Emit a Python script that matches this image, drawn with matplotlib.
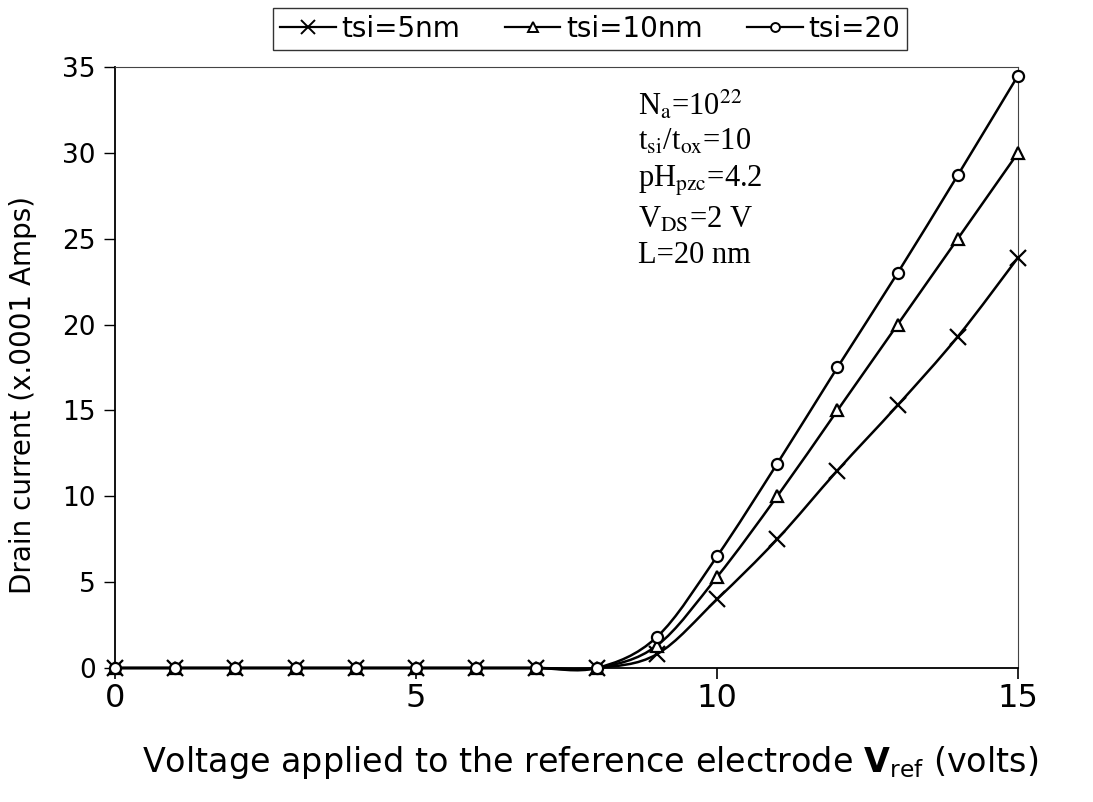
import numpy as np
import matplotlib
matplotlib.use("Agg")
import matplotlib.pyplot as plt
from matplotlib.path import Path
from matplotlib.patches import PathPatch
from matplotlib.lines import Line2D

plt.rcParams["font.family"] = ["DejaVu Sans"]
plt.rcParams["mathtext.fontset"] = "dejavusans"

# Reference electrode voltage (V)
v_ref = [0, 1, 2, 3, 4, 5, 6, 7, 8, 9, 10, 11, 12, 13, 14, 15]
# Drain current (x0.0001 A)
id_5nm = [0, 0, 0, 0, 0, 0, 0, 0, 0, 0.8, 4.0, 7.5, 11.5, 15.3, 19.3, 23.9]
id_10nm = [0, 0, 0, 0, 0, 0, 0, 0, 0, 1.3, 5.3, 10.0, 15.0, 20.0, 25.0, 30.0]
id_20nm = [0, 0, 0, 0, 0, 0, 0, 0, 0, 1.8, 6.5, 11.9, 17.5, 23.0, 28.7, 34.5]

series = [
    ("tsi=5nm", id_5nm, "x", 12),
    ("tsi=10nm", id_10nm, "^", 9),
    ("tsi=20", id_20nm, "o", 8),
]

x_ticks = [0, 5, 10, 15]
y_ticks = [0, 5, 10, 15, 20, 25, 30, 35]


def smooth_path(ax, xs, ys):
    """Cubic Bezier path through the points (spreadsheet-style smoothing)."""
    pts = ax.transData.transform(np.column_stack([xs, ys]))
    n = len(pts)
    verts = [pts[0]]
    codes = [Path.MOVETO]
    for i in range(n - 1):
        p0 = pts[i - 1] if i > 0 else pts[i]
        p1 = pts[i]
        p2 = pts[i + 1]
        p3 = pts[i + 2] if i + 2 < n else pts[i + 1]
        c1 = p1 + (p2 - p0) / 6.0
        c2 = p2 - (p3 - p1) / 6.0
        verts += [c1, c2, p2]
        codes += [Path.CURVE4] * 3
    return Path(verts, codes)


fig = plt.figure(figsize=(10.93, 8.02), dpi=100)
ax = fig.add_axes([0.1052, 0.1671, 0.8262, 0.7494])
ax.set_xlim(0, 15)
ax.set_ylim(0, 35)

handles = []
for label, ys, mk, ms in series:
    ax.plot(v_ref, ys, linestyle="none", marker=mk, markersize=ms,
            markerfacecolor="white" if mk != "x" else "black",
            markeredgecolor="black", markeredgewidth=1.6, zorder=4,
            clip_on=False)
    handles.append(Line2D([], [], color="black", lw=1.6, marker=mk,
                          markersize=ms * 0.8, markerfacecolor="white",
                          markeredgecolor="black", markeredgewidth=1.4,
                          label=label))

fig.canvas.draw()
for label, ys, mk, ms in series:
    path = smooth_path(ax, v_ref, ys)
    patch = PathPatch(path, facecolor="none", edgecolor="black", lw=1.8,
                      transform=None, zorder=3)
    patch.set_clip_on(False)
    ax.add_artist(patch)

for side in ["top", "right"]:
    ax.spines[side].set_linestyle((0, (8, 1)))
    ax.spines[side].set_linewidth(0.8)
    ax.spines[side].set_color("#444444")
ax.spines["left"].set_linewidth(1.3)
ax.spines["bottom"].set_linewidth(1.3)

ax.set_xticks(x_ticks)
ax.set_yticks(y_ticks)
ax.tick_params(axis="x", direction="out", length=8, width=1.2,
               labelsize=23, pad=3)
ax.tick_params(axis="y", direction="out", length=8, width=1.0,
               labelsize=19, pad=6)

ax.set_ylabel("Drain current (x.0001 Amps)", fontsize=20)
ax.yaxis.set_label_coords(-0.086, 0.454)
ax.set_xlabel(r"Voltage applied to the reference electrode "
              r"$\mathbf{V}$$_{\mathrm{ref}}$ (volts)", fontsize=24)
ax.xaxis.set_label_coords(0.526, -0.127)

note = (r"N$_{\mathrm{a}}$=10$^{22}$" "\n"
        r"t$_{\mathrm{si}}$/t$_{\mathrm{ox}}$=10" "\n"
        r"pH$_{\mathrm{pzc}}$=4.2" "\n"
        r"V$_{\mathrm{DS}}$=2 V" "\n"
        "L=20 nm")
ax.text(0.579, 0.965, note, transform=ax.transAxes, ha="left", va="top",
        fontsize=22, family="Liberation Serif", math_fontfamily="stix",
        linespacing=1.3)

leg = fig.legend(handles=handles, loc="center", bbox_to_anchor=(0.540, 0.964),
                 ncol=3, fontsize=20, frameon=True, fancybox=False,
                 handlelength=2.0, handletextpad=0.2, columnspacing=1.6,
                 borderpad=0.25)
leg.get_frame().set_edgecolor("black")
leg.get_frame().set_linewidth(1.0)

fig.savefig("out.png", dpi=100, facecolor="white")
